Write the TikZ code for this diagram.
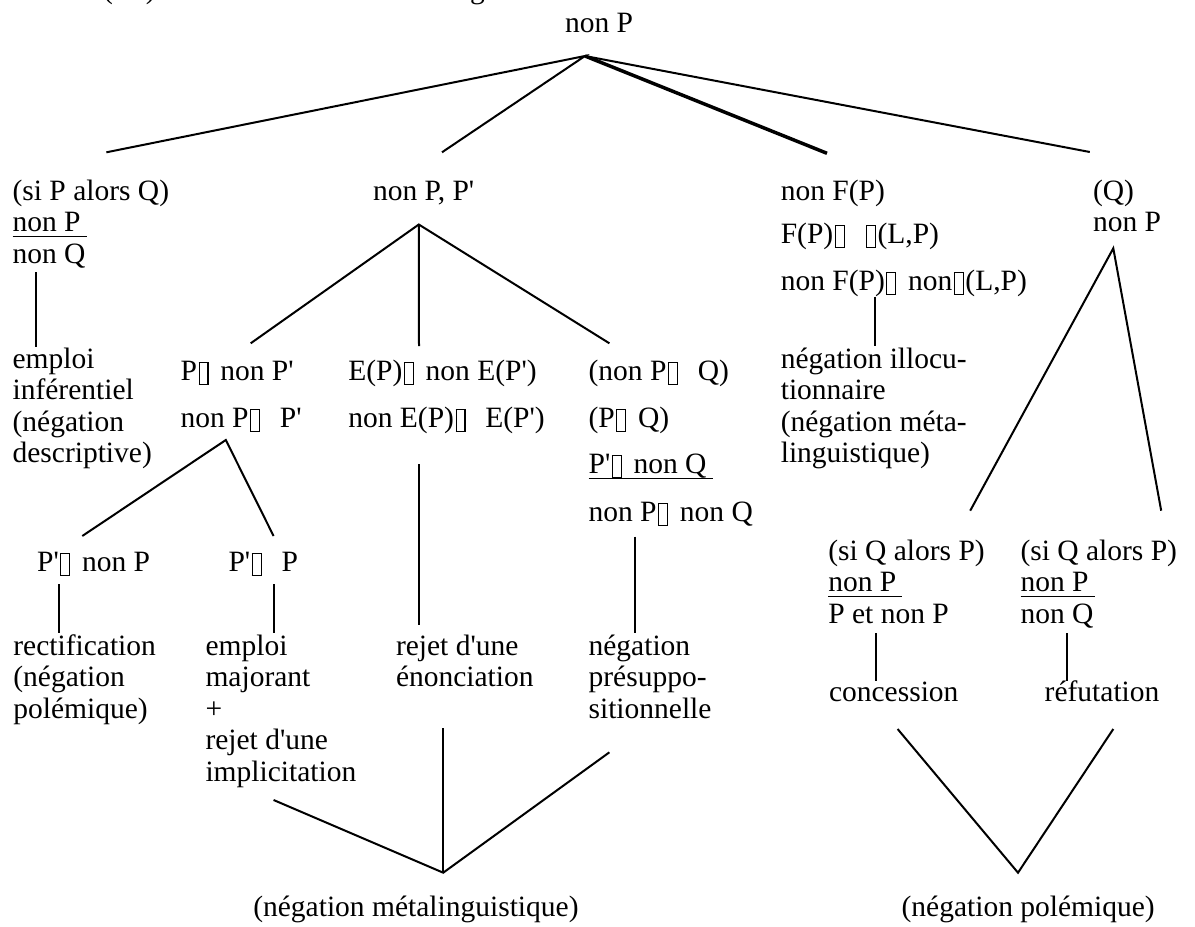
\documentclass[tikz,border=0pt]{standalone}
\usepackage{fontspec}
\setmainfont{Liberation Serif}[Ligatures=TeXOff]
\newcommand\gb{\hspace{1.5pt}{\setlength\fboxsep{0pt}\setlength\fboxrule{1.1pt}\raisebox{-3.5pt}{\fbox{\rule{0pt}{20.8pt}\hspace{7.8pt}}}}\hspace{1.5pt}}
\newcommand\gapA{\hspace{0.35em}}
\newcommand\gapB{\hspace{0.62em}}
\newcommand\ul[1]{\setbox0\hbox{#1\hspace{6pt}}\rlap{\rule[-5.6pt]{\wd0}{1.2pt}}#1}
\tikzset{
  txt/.style={anchor=base west, inner sep=0pt, outer sep=0pt, font=\fontsize{29.5}{31.5}\selectfont},
  link/.style={line width=2pt},
  heavylink/.style={line width=3.5pt}
}
\begin{document}
\begin{tikzpicture}[x=1pt,y=-1pt]
\useasboundingbox (0,0) rectangle (1195,927);
\fill[white] (0,0) rectangle (1195,927);

% partially visible heading
\node[txt] (frag1) at (103,-2) {(\hspace{33pt})};
\node[txt] (frag2) at (470,-2) {g};

% root
\node[txt] (root) at (565,32) {non P};
\coordinate (rA) at (585,56);

% column 1
\node[txt] (c1) at (12.6,200) {\vtop{\hbox{(si P alors Q)}\hbox{\ul{non P}}\hbox{non Q}}};
\coordinate (c1t) at (106.4,152.3);
\coordinate (c1v1) at (35.6,272);
\coordinate (c1v2) at (35.6,347);
\node[txt] (c1b) at (12.6,368.3) {\vtop{\hbox{emploi}\hbox{inférentiel}\hbox{(négation}\hbox{descriptive)}}};

% column 2
\node[txt] (c2) at (373,200) {non P, P'};
\coordinate (c2t) at (442,152.3);
\coordinate (c2A) at (418.8,224.5);
\coordinate (c2aT) at (250.7,343.3);
\coordinate (c2bT) at (419,346);
\coordinate (c2cT) at (609.4,343.3);

\node[txt] (c2a) at (180.6,380) {\vtop{\hbox{P\gb\gapA non P'}\vskip15.8pt\hbox{non P\gb\gapB P'}}};
\coordinate (c2aA) at (225.8,440);
\coordinate (c2a1T) at (82.3,536);
\coordinate (c2a2T) at (273.6,536);

\node[txt] (c2a1) at (37.1,571.7) {P'\gb\gapA non P};
\coordinate (c2a1v1) at (58.6,584.3);
\coordinate (c2a1v2) at (58.6,633.3);
\node[txt] (c2a1b) at (13.4,655) {\vtop{\hbox{rectification}\hbox{(négation}\hbox{polémique)}}};

\node[txt] (c2a2) at (228.5,571.7) {P'\gb\gapB P};
\coordinate (c2a2v1) at (274.4,584.3);
\coordinate (c2a2v2) at (274.4,633.3);
\node[txt] (c2a2b) at (205.5,655) {\vtop{\hbox{emploi}\hbox{majorant}\hbox{+}\hbox{rejet d'une}\hbox{implicitation}}};

\node[txt] (c2b) at (348.3,380) {\vtop{\hbox{E(P)\gb\gapA non E(P')}\vskip15.8pt\hbox{non E(P)\gb\gapB E(P')}}};
\coordinate (c2bv1) at (419,464.3);
\coordinate (c2bv2) at (419,625);
\node[txt] (c2b1) at (396,655) {\vtop{\hbox{rejet d'une}\hbox{énonciation}}};

\node[txt] (c2c) at (588.6,380) {\vtop{\hbox{(non P\gb\gapB Q)}\vskip15.8pt\hbox{(P\gb\gapA Q)}\vskip14.5pt\hbox{\ul{P'\gb\gapA non Q}}\vskip16.9pt\hbox{non P\gb\gapA non Q}}};
\coordinate (c2cv1) at (634.9,536.7);
\coordinate (c2cv2) at (634.9,633.3);
\node[txt] (c2c1) at (588.6,655) {\vtop{\hbox{négation}\hbox{présuppo-}\hbox{sitionnelle}}};

% bottom left convergence
\coordinate (mlL) at (273.6,800);
\coordinate (mlM) at (443.2,728.3);
\coordinate (mlR) at (609.4,752.3);
\coordinate (mlA) at (443.2,872.7);
\node[txt] (ml) at (253.3,916.7) {(négation métalinguistique)};

% column 3
\node[txt] (c3) at (780.8,200) {\vtop{\hbox{non F(P)}\vskip11.8pt\hbox{F(P)\gb\gapB\gb(L,P)}\vskip15.2pt\hbox{non F(P)\gb\gapA non\gb(L,P)}}};
\coordinate (c3t) at (827,153.3);
\coordinate (c3v1) at (875,296.7);
\coordinate (c3v2) at (875,346);
\node[txt] (c3b) at (780.8,368.3) {\vtop{\hbox{négation illocu-}\hbox{tionnaire}\hbox{(négation méta-}\hbox{linguistique)}}};

% column 4
\node[txt] (c4) at (1093,200) {\vtop{\hbox{(Q)}\hbox{non P}}};
\coordinate (c4t) at (1089.8,152);
\coordinate (c4A) at (1113.3,248.3);
\coordinate (c4aT) at (970.2,510.7);
\coordinate (c4bT) at (1161.2,510.7);

\node[txt] (c4a) at (828.3,560) {\vtop{\hbox{(si Q alors P)}\hbox{\ul{non P}}\hbox{P et non P}}};
\coordinate (c4av1) at (875.5,633);
\coordinate (c4av2) at (875.5,681);
\node[txt] (c4a1) at (829,701.7) {concession};

\node[txt] (c4b) at (1020.5,560) {\vtop{\hbox{(si Q alors P)}\hbox{\ul{non P}}\hbox{non Q}}};
\coordinate (c4bv1) at (1067,633);
\coordinate (c4bv2) at (1067,681);
\node[txt] (c4b1) at (1044.7,701.7) {réfutation};

% bottom right convergence
\coordinate (mrL) at (897.6,729);
\coordinate (mrR) at (1113.3,729);
\coordinate (mrA) at (1018,872.7);
\node[txt] (mr) at (901.6,916.7) {(négation polémique)};

% connectors
\draw[link] (c1t) -- (rA) -- (c2t);
\draw[heavylink] (rA) -- (c3t);
\draw[link] (rA) -- (c4t);
\draw[link] (c1v1) -- (c1v2);
\draw[link] (c2aT) -- (c2A) -- (c2cT);
\draw[link] (c2A) -- (c2bT);
\draw[link] (c2a1T) -- (c2aA) -- (c2a2T);
\draw[link] (c2a1v1) -- (c2a1v2);
\draw[link] (c2a2v1) -- (c2a2v2);
\draw[link] (c2bv1) -- (c2bv2);
\draw[link] (c2cv1) -- (c2cv2);
\draw[link] (mlL) -- (mlA) -- (mlR);
\draw[link] (mlM) -- (mlA);
\draw[link] (c3v1) -- (c3v2);
\draw[link] (c4aT) -- (c4A) -- (c4bT);
\draw[link] (c4av1) -- (c4av2);
\draw[link] (c4bv1) -- (c4bv2);
\draw[link] (mrL) -- (mrA) -- (mrR);
\end{tikzpicture}
\end{document}
